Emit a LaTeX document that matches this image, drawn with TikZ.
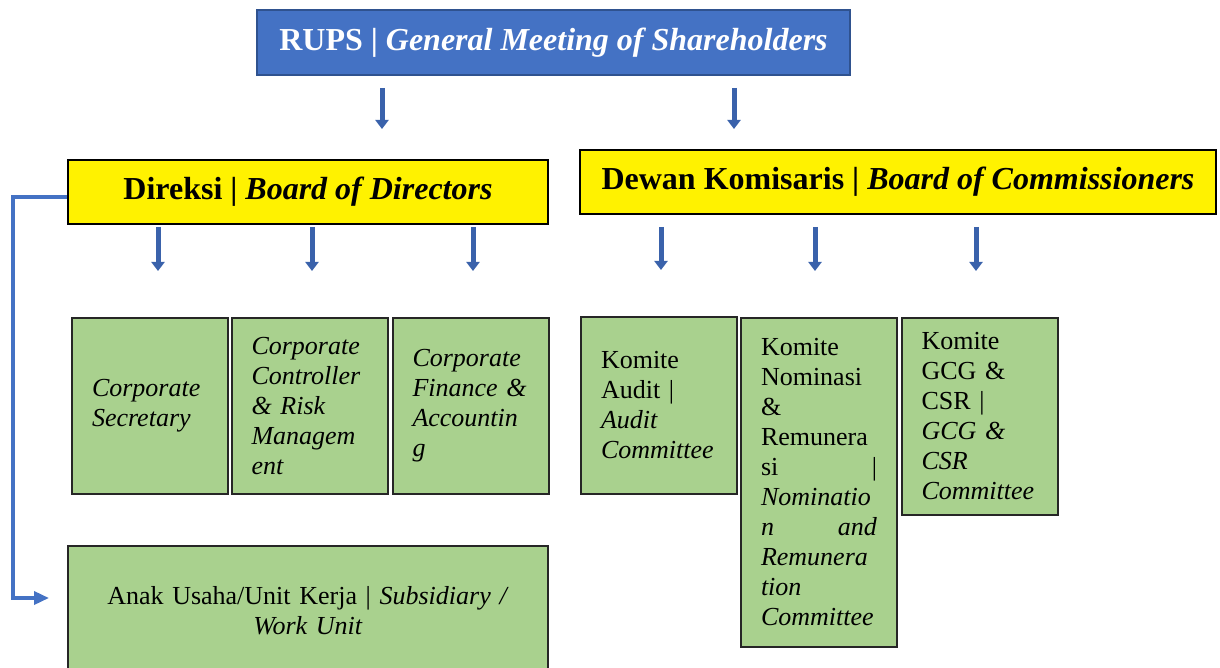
\documentclass[tikz,border=0pt]{standalone}
\usepackage{fontspec}
\setmainfont{Liberation Serif}
\usetikzlibrary{arrows.meta}
\definecolor{rupsblue}{HTML}{4472C4}
\definecolor{rupsedge}{HTML}{2F528F}
\definecolor{arrowblue}{HTML}{3A62AB}
\definecolor{unitgreen}{HTML}{A9D18E}
\begin{document}
\begin{tikzpicture}[x=0.5pt,y=-0.5pt,
    board/.style={draw=black,line width=1pt,fill=yellow,minimum height=32pt,inner sep=0pt,font=\fontsize{16}{19}\selectfont\bfseries},
    unit/.style={draw=black!85,line width=1pt,fill=unitgreen,text width=58pt,inner xsep=10pt,inner ysep=0pt,align=left,font=\fontsize{13}{15}\selectfont},
    flowarrow/.style={draw=arrowblue,line width=2.5pt,-{Triangle[width=6.5pt,length=4.5pt]}}]
    \useasboundingbox (0,0) rectangle (1220,668);
    \node [draw=rupsedge,line width=1pt,fill=rupsblue,text=white,minimum width=296.5pt,minimum height=32.5pt,inner sep=0pt,font=\fontsize{16}{19}\selectfont\bfseries] (rups) at (553.5,42.5) {RUPS | \textit{General Meeting of Shareholders}};
    \node [board,minimum width=240pt] (direksi) at (308,192) {Direksi | \textit{Board of Directors}};
    \node [board,minimum width=318pt] (dewan) at (898,182) {Dewan Komisaris | \textit{Board of Commissioners}};
    \node [unit,minimum height=88pt] (sec) at (150,406) {\itshape Corporate\\Secretary};
    \node [unit,minimum height=88pt] (ctrl) at (309.5,406) {\itshape Corporate\\Controller\\\& Risk\\Managem\\ent};
    \node [unit,minimum height=88pt] (fin) at (470.5,406) {\itshape Corporate\\Finance \&\\Accountin\\g};
    \node [unit,minimum height=88.5pt] (audit) at (659,405.5) {Komite\\Audit |\\\textit{Audit}\\\textit{Committee}};
    \node [unit,minimum height=164.5pt] (nom) at (819,482.5) {Komite\\Nominasi\\\&\\Remunera\\si \hfill |\\\textit{Nominatio}\\\textit{n \hfill and}\\\textit{Remunera}\\\textit{tion}\\\textit{Committee}};
    \node [unit,minimum height=98.5pt] (gcg) at (979.5,416.5) {Komite\\GCG \&\\CSR |\\\textit{GCG \&}\\\textit{CSR}\\\textit{Committee}};
    \node [unit,text width=220pt,align=center,minimum height=65pt] (anak) at (308,611) {Anak Usaha/Unit Kerja | \textit{Subsidiary /}\\\textit{Work Unit}};
    \draw [flowarrow,shorten <=6pt,shorten >=15pt] (rups.south -| 382,0) -- (direksi.north -| 382,0);
    \draw [flowarrow,shorten <=6pt,shorten >=10pt] (rups.south -| 734,0) -- (dewan.north -| 734,0);
    \foreach \b/\dx in {sec/4pt,ctrl/1.25pt,fin/1.25pt}
        \draw [flowarrow] ([xshift=\dx,yshift=-1pt]\b.north |- direksi.south) -- ([xshift=\dx,yshift=23pt]\b.north);
    \foreach \b/\dx in {audit/1pt,nom/-2pt,gcg/-1.75pt}
        \draw [flowarrow] ([xshift=\dx,yshift=-6pt]\b.north |- dewan.south) -- ([xshift=\dx,yshift=23pt]\b.north);
    \draw [draw=rupsblue,line width=1.75pt,-{Triangle[width=6.5pt,length=7.5pt]}] ([yshift=-2.5pt]direksi.west) -- ++(-27pt,0) |- ([yshift=6.5pt,xshift=-9pt]anak.west);
\end{tikzpicture}
\end{document}
